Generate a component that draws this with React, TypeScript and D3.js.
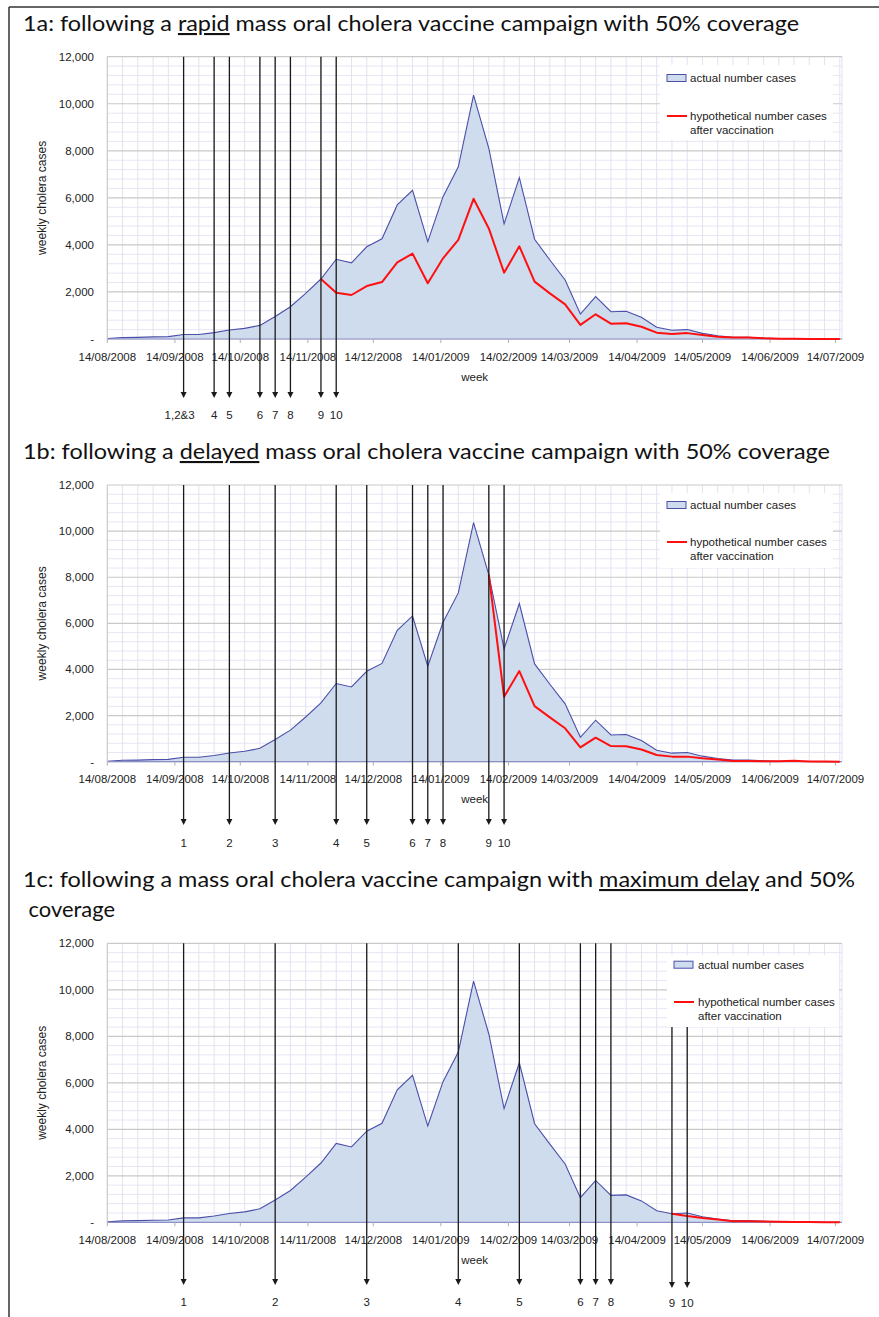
import React from "react";
import * as d3 from "d3";

// ---------- DATA ----------
const weekDates = [
  "2008-08-14", "2008-08-21", "2008-08-28", "2008-09-04", "2008-09-11", "2008-09-18", "2008-09-25",
  "2008-10-02", "2008-10-09", "2008-10-16", "2008-10-23", "2008-10-30", "2008-11-06", "2008-11-13",
  "2008-11-20", "2008-11-27", "2008-12-04", "2008-12-11", "2008-12-18", "2008-12-25", "2009-01-01",
  "2009-01-08", "2009-01-15", "2009-01-22", "2009-01-29", "2009-02-05", "2009-02-12", "2009-02-19",
  "2009-02-26", "2009-03-05", "2009-03-12", "2009-03-19", "2009-03-26", "2009-04-02", "2009-04-09",
  "2009-04-16", "2009-04-23", "2009-04-30", "2009-05-07", "2009-05-14", "2009-05-21", "2009-05-28",
  "2009-06-04", "2009-06-11", "2009-06-18", "2009-06-25", "2009-07-02", "2009-07-09", "2009-07-16",
];

const actualCases = [
  20, 60, 70, 90, 100, 190, 190, 270, 380, 450, 580, 960, 1370, 1940, 2550, 3390, 3240, 3920, 4260,
  5700, 6320, 4140, 6050, 7320, 10370, 8100, 4890, 6860, 4240, 3360, 2510, 1060, 1800, 1160, 1180,
  920, 500, 370, 400, 240, 140, 70, 70, 40, 20, 10, 10, 5, 0,
];

// hypothetical cases after vaccination (start week index + values)
const rapidStart = 14;
const rapidCases = [
  2550, 1970, 1870, 2250, 2420, 3260, 3630, 2370, 3430, 4210, 5960, 4700, 2820, 3940, 2440, 1940,
  1470, 600, 1050, 650, 670, 520, 270, 210, 250, 170, 100, 60, 60, 30, 15, 10, 5, 5, 0,
];
const delayedStart = 25;
const delayedCases = [
  8100, 2820, 3930, 2410, 1920, 1450, 620, 1040, 680, 670, 530, 290, 220, 220, 150, 100, 30, 30, 20,
  20, 40, 10, 5, 0,
];
const maxDelayStart = 37;
const maxDelayCases = [370, 270, 190, 120, 50, 40, 30, 20, 15, 10, 5, 5];

const monthTicks = [
  "2008-08-14", "2008-09-14", "2008-10-14", "2008-11-14", "2008-12-14", "2009-01-14",
  "2009-02-14", "2009-03-14", "2009-04-14", "2009-05-14", "2009-06-14", "2009-07-14",
];
const yTicks = [0, 2000, 4000, 6000, 8000, 10000, 12000];

const rapidArrowWeeks = [5, 7, 8, 10, 11, 12, 14, 15];
const rapidArrowLabels = ["1,2&3", "4", "5", "6", "7", "8", "9", "10"];
const delayedArrowWeeks = [5, 8, 11, 15, 17, 20, 21, 22, 25, 26];
const delayedArrowLabels = ["1", "2", "3", "4", "5", "6", "7", "8", "9", "10"];
const maxArrowWeeks = [5, 11, 17, 23, 27, 31, 32, 33, 37, 38];
const maxArrowLabels = ["1", "2", "3", "4", "5", "6", "7", "8", "9", "10"];

// ---------- LAYOUT ----------
const W = 879;
const H = 1317;
const X0 = 107.3;
const X1 = 842;
const parse = (s: string) => new Date(s + "T00:00:00Z");
const x = d3.scaleUtc().domain([parse("2008-08-14"), parse("2009-07-17")]).range([X0, X1]);
const fmt = d3.utcFormat("%d/%m/%Y");
const yFmt = (v: number) => (v === 0 ? "-" : d3.format(",")(v));

type Panel = {
  top: number;
  bottom: number;
  title: { pre: string; u: string; post: string; y: number; len: number }[];
  arrowWeeks: number[];
  arrowLabels: string[];
  arrowLowTop?: number[];
  lowTop?: number;
  tip: number;
  labelY: number;
  legend: { x: number; y: number; w: number; h: number; sx: number; tx: number; s1: number; s2: number };
  redStart: number;
  red: number[];
};

const panels: Panel[] = [
  {
    top: 56.7,
    bottom: 339,
    title: [{ pre: "1a: following a ", u: "rapid", post: " mass oral cholera vaccine campaign with 50% coverage", y: 31, len: 776 }],
    arrowWeeks: rapidArrowWeeks,
    arrowLabels: rapidArrowLabels,
    tip: 398,
    labelY: 419,
    legend: { x: 660, y: 65, w: 173, h: 75, sx: 667, tx: 690, s1: 78, s2: 116 },
    redStart: rapidStart,
    red: rapidCases,
  },
  {
    top: 485,
    bottom: 761.7,
    title: [{ pre: "1b: following a ", u: "delayed", post: " mass oral cholera vaccine campaign with 50% coverage", y: 459, len: 807 }],
    arrowWeeks: delayedArrowWeeks,
    arrowLabels: delayedArrowLabels,
    tip: 825,
    labelY: 847,
    legend: { x: 660, y: 493, w: 173, h: 75, sx: 667, tx: 690, s1: 505, s2: 542 },
    redStart: delayedStart,
    red: delayedCases,
  },
  {
    top: 943.3,
    bottom: 1222.3,
    title: [
      { pre: "1c: following a mass oral cholera vaccine campaign with ", u: "maximum delay", post: " and 50%", y: 887, len: 832 },
      { pre: " coverage", u: "", post: "", y: 917, len: 92 },
    ],
    arrowWeeks: maxArrowWeeks,
    arrowLabels: maxArrowLabels,
    arrowLowTop: [8, 9],
    lowTop: 1027,
    tip: 1285,
    labelY: 1306,
    legend: { x: 667, y: 955, w: 172, h: 72, sx: 674, tx: 698, s1: 964.7, s2: 1002 },
    redStart: maxDelayStart,
    red: maxDelayCases,
  },
];

const AXIS_FONT = "'Liberation Sans', Arial, sans-serif";
const TITLE_FONT = "Lato, 'Open Sans', sans-serif";

function ChartPanel({ p }: { p: Panel }) {
  const y = d3.scaleLinear().domain([0, 12000]).range([p.bottom, p.top]);
  const pts = actualCases.map((v, i) => ({ d: parse(weekDates[i]), v }));
  const area = d3
    .area<{ d: Date; v: number }>()
    .x((d) => x(d.d))
    .y0(p.bottom)
    .y1((d) => y(d.v));
  const line = d3
    .line<{ d: Date; v: number }>()
    .x((d) => x(d.d))
    .y((d) => y(d.v));
  const redPts = p.red.map((v, i) => ({ d: parse(weekDates[p.redStart + i]), v }));
  const minor = d3.range(0, 12001, 400).filter((v) => v % 2000 !== 0);
  const midY = (p.top + p.bottom) / 2;

  return (
    <g>
      {p.title.map((t, i) => (
        <text
          key={i}
          x={23}
          y={t.y}
          fontFamily={TITLE_FONT}
          fontSize={21}
          fill="#111"
          textLength={t.len}
          lengthAdjust="spacingAndGlyphs"
          style={{ whiteSpace: "pre" }}
        >
          {t.pre}
          {t.u && <tspan textDecoration="underline">{t.u}</tspan>}
          {t.post}
        </text>
      ))}

      <rect x={X0} y={p.top} width={X1 - X0} height={p.bottom - p.top} fill="#fff" />
      {minor.map((v) => (
        <line key={"mh" + v} x1={X0} x2={X1} y1={y(v)} y2={y(v)} stroke="#e6e6f6" strokeWidth={1} />
      ))}
      {weekDates.map((d) => (
        <line key={"vg" + d} x1={x(parse(d))} x2={x(parse(d))} y1={p.top} y2={p.bottom} stroke="#e2e2f2" strokeWidth={1} />
      ))}
      <line x1={X1} x2={X1} y1={p.top} y2={p.bottom} stroke="#e2e2f2" />
      {yTicks.map((v) => (
        <line key={"mj" + v} x1={X0} x2={X1} y1={y(v)} y2={y(v)} stroke="#c9c9c9" strokeWidth={1.2} />
      ))}

      <path d={area(pts) || ""} fill="#cfdcee" stroke="none" />
      <path d={line(pts) || ""} fill="none" stroke="#4b4fa8" strokeWidth={1.1} />
      <line x1={X0} x2={X1} y1={p.bottom} y2={p.bottom} stroke="#8c8fc8" strokeWidth={1.2} />
      <line x1={X0} x2={X0} y1={p.top} y2={p.bottom} stroke="#c9c9c9" />
      {monthTicks.map((d) => (
        <line key={"mt" + d} x1={x(parse(d))} x2={x(parse(d))} y1={p.bottom} y2={p.bottom + 4} stroke="#b0b0b0" />
      ))}

      <path d={line(redPts) || ""} fill="none" stroke="#ff1010" strokeWidth={2} strokeLinejoin="round" />

      <rect x={p.legend.x} y={p.legend.y} width={p.legend.w} height={p.legend.h} fill="#fff" />
      <rect x={p.legend.sx} y={p.legend.s1 - 3.5} width={19} height={7} fill="#cfdcee" stroke="#4b4fa8" strokeWidth={1} />
      <text x={p.legend.tx} y={p.legend.s1 + 4} fontFamily={AXIS_FONT} fontSize={11.5} fill="#222">
        actual number cases
      </text>
      <line x1={p.legend.sx} x2={p.legend.sx + 20} y1={p.legend.s2} y2={p.legend.s2} stroke="#ff1010" strokeWidth={2} />
      <text x={p.legend.tx} y={p.legend.s2 + 3.5} fontFamily={AXIS_FONT} fontSize={11.5} fill="#222">
        hypothetical number cases
      </text>
      <text x={p.legend.tx} y={p.legend.s2 + 17.5} fontFamily={AXIS_FONT} fontSize={11.5} fill="#222">
        after vaccination
      </text>

      {yTicks.map((v) => (
        <text key={"yt" + v} x={94} y={y(v) + 4} textAnchor="end" fontFamily={AXIS_FONT} fontSize={11.5} fill="#222">
          {yFmt(v)}
        </text>
      ))}
      <text
        transform={`translate(46,${midY}) rotate(-90)`}
        textAnchor="middle"
        fontFamily={AXIS_FONT}
        fontSize={12}
        fill="#222"
      >
        weekly cholera cases
      </text>

      {monthTicks.map((d) => (
        <text key={"xt" + d} x={x(parse(d))} y={p.bottom + 21.5} textAnchor="middle" fontFamily={AXIS_FONT} fontSize={11.5} fill="#222">
          {fmt(parse(d))}
        </text>
      ))}
      <text x={(X0 + X1) / 2} y={p.bottom + 41.5} textAnchor="middle" fontFamily={AXIS_FONT} fontSize={11.5} fill="#222">
        week
      </text>

      {p.arrowWeeks.map((w, i) => {
        const ax = x(parse(weekDates[w]));
        const low = p.arrowLowTop && p.arrowLowTop.includes(i);
        const top = low ? (p.lowTop as number) : p.top;
        const tip = low ? p.tip + 3 : p.tip;
        return (
          <g key={"ar" + i}>
            <line x1={ax} x2={ax} y1={top} y2={tip - 5} stroke="#1a1a1a" strokeWidth={1.3} />
            <path d={`M${ax - 3},${tip - 6} L${ax + 3},${tip - 6} L${ax},${tip} Z`} fill="#1a1a1a" />
            <text
              x={ax + (p.arrowLabels[i].length > 2 ? -4 : 0)}
              y={low ? p.labelY + 1 : p.labelY}
              textAnchor="middle"
              fontFamily={AXIS_FONT}
              fontSize={11.5}
              fill="#222"
            >
              {p.arrowLabels[i]}
            </text>
          </g>
        );
      })}
    </g>
  );
}

export default function App() {
  return (
    <svg width={W} height={H} style={{ position: "absolute", left: 0, top: 0, background: "#fff" }}>
      <rect x={0} y={0} width={W} height={H} fill="#fff" />
      <line x1={9} x2={W} y1={7} y2={7} stroke="#333" strokeWidth={1.5} />
      <line x1={9} x2={9} y1={7} y2={H} stroke="#333" strokeWidth={1.5} />
      {panels.map((p, i) => (
        <ChartPanel key={i} p={p} />
      ))}
    </svg>
  );
}
